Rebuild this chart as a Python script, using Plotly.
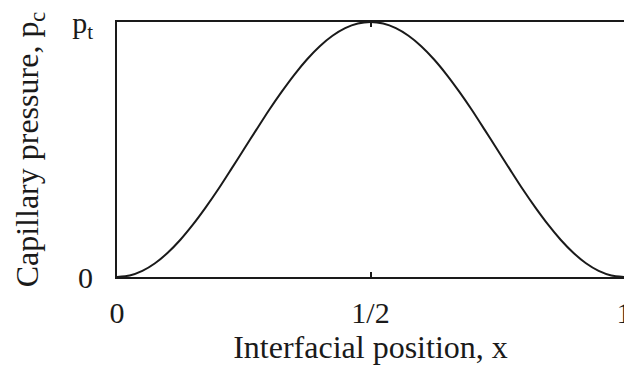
import plotly.graph_objects as go

# Interfacial position across the throat and the capillary pressure (fraction of p_t)
position = [0.0, 0.025, 0.05, 0.075, 0.10, 0.125, 0.15, 0.175, 0.20, 0.225,
            0.25, 0.275, 0.30, 0.325, 0.35, 0.375, 0.40, 0.425, 0.45, 0.475,
            0.50, 0.525, 0.55, 0.575, 0.60, 0.625, 0.65, 0.675, 0.70, 0.725,
            0.75, 0.775, 0.80, 0.825, 0.85, 0.875, 0.90, 0.925, 0.95, 0.975, 1.0]
pressure = [0.0, 0.006, 0.024, 0.054, 0.095, 0.146, 0.206, 0.273, 0.345, 0.422,
            0.50, 0.578, 0.655, 0.727, 0.794, 0.854, 0.905, 0.946, 0.976, 0.994,
            1.0, 0.994, 0.976, 0.946, 0.905, 0.854, 0.794, 0.727, 0.655, 0.578,
            0.50, 0.422, 0.345, 0.273, 0.206, 0.146, 0.095, 0.054, 0.024, 0.006, 0.0]

x_tick_vals = [0, 0.5, 1]
x_tick_text = ["0", "1/2", "1"]
y_tick_vals = [0, 1]
y_tick_text = ["0", "p<sub>t</sub>"]

serif = "Liberation Serif, Times New Roman, serif"
ink = "#1a1a1a"

fig = go.Figure(
    go.Scatter(
        x=position, y=pressure, mode="lines", line_shape="spline",
        line=dict(color=ink, width=2, smoothing=0.6),
    )
)

axis_common = dict(
    showgrid=False, zeroline=False, showline=True, linecolor=ink, linewidth=2,
    mirror="ticks", ticks="inside", ticklen=5, tickwidth=1.5, tickcolor=ink,
    tickfont=dict(family=serif, size=30, color=ink),
    ticklabeloverflow="allow",
)

fig.update_xaxes(
    range=[0, 1], tickvals=x_tick_vals, ticktext=x_tick_text,
    ticklabelstandoff=8,
    title=dict(text="Interfacial position, x", font=dict(family=serif, size=32, color=ink), standoff=8),
    **axis_common,
)
fig.update_yaxes(
    range=[0, 1], tickvals=y_tick_vals, ticktext=y_tick_text,
    ticklabelstandoff=16,
    title=dict(text="Capillary pressure, p<sub>c</sub>", font=dict(family=serif, size=32, color=ink), standoff=24),
    **axis_common,
)

fig.update_layout(
    width=624, height=374,
    margin=dict(l=117, r=0, t=22, b=97, autoexpand=False),
    paper_bgcolor="white", plot_bgcolor="white",
    showlegend=False,
)

fig.write_html("out.html")
